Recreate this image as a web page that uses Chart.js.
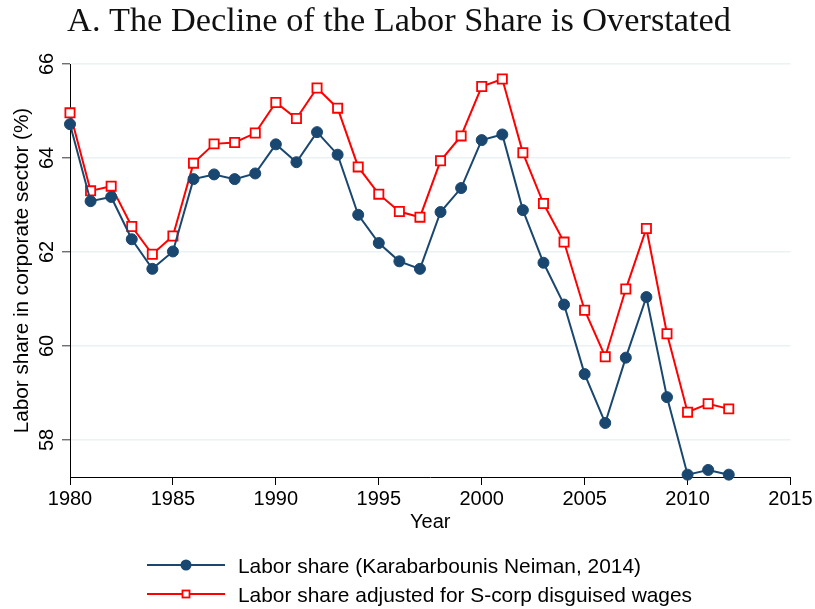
<!DOCTYPE html>
<html>
<head>
<meta charset="utf-8">
<script src="https://cdn.jsdelivr.net/npm/chart.js@4.4.1/dist/chart.umd.min.js"></script>
<style>
  html, body { margin: 0; padding: 0; background: #fff; }
</style>
</head>
<body>
<canvas id="myChart" width="815" height="609"></canvas>
<script>
// values
const years = [1980, 1981, 1982, 1983, 1984, 1985, 1986, 1987, 1988, 1989,
  1990, 1991, 1992, 1993, 1994, 1995, 1996, 1997, 1998, 1999,
  2000, 2001, 2002, 2003, 2004, 2005, 2006, 2007, 2008, 2009,
  2010, 2011, 2012];
const laborShare = [64.72, 63.08, 63.17, 62.27, 61.64, 62.01, 63.55, 63.65, 63.55, 63.67,
  64.29, 63.91, 64.55, 64.07, 62.79, 62.19, 61.80, 61.64, 62.85, 63.36,
  64.38, 64.50, 62.89, 61.77, 60.88, 59.40, 58.36, 59.75, 61.04, 58.91,
  57.26, 57.36, 57.26];
const laborShareAdj = [64.96, 63.30, 63.40, 62.54, 61.95, 62.34, 63.89, 64.30, 64.33, 64.53,
  65.18, 64.84, 65.49, 65.06, 63.81, 63.23, 62.86, 62.74, 63.94, 64.47,
  65.52, 65.68, 64.11, 63.03, 62.21, 60.76, 59.77, 61.21, 62.50, 60.26,
  58.59, 58.77, 58.66];
const xTicks = [1980, 1985, 1990, 1995, 2000, 2005, 2010, 2015];
const yTicks = [58, 60, 62, 64, 66];
const seriesNames = ["Labor share (Karabarbounis Neiman, 2014)",
  "Labor share adjusted for S-corp disguised wages"];
const chartTitle = "A. The Decline of the Labor Share is Overstated";
const yTitle = "Labor share in corporate sector (%)";
const xTitle = "Year";

const navy = "rgb(26, 71, 111)";
const red = "rgb(255, 0, 0)";
const sans = '"Liberation Sans", Arial, sans-serif';

// title, rotated y labels, axis titles and the legend are drawn by hand
const overlay = {
  id: "overlay",
  afterDraw(chart) {
    const ctx = chart.ctx;
    const area = chart.chartArea;
    const yScale = chart.scales.y;
    ctx.save();
    ctx.fillStyle = "#000";
    ctx.textAlign = "center";
    ctx.textBaseline = "alphabetic";

    ctx.font = '34.3px "Liberation Serif", "Times New Roman", serif';
    ctx.fillStyle = "#111";
    ctx.fillText(chartTitle, 399, 31);
    ctx.fillStyle = "#000";

    ctx.font = "20px " + sans;
    yTicks.forEach((v) => {
      ctx.save();
      ctx.translate(52.5, yScale.getPixelForValue(v));
      ctx.rotate(-Math.PI / 2);
      ctx.fillText(String(v), 0, 0);
      ctx.restore();
    });

    ctx.font = "20.7px " + sans;
    ctx.save();
    ctx.translate(27.5, (area.top + area.bottom) / 2);
    ctx.rotate(-Math.PI / 2);
    ctx.fillText(yTitle, 0, 0);
    ctx.restore();

    ctx.font = "20px " + sans;
    ctx.fillText(xTitle, (area.left + area.right) / 2, 528);

    // legend
    const rows = [565, 594];
    ctx.font = "20.9px " + sans;
    ctx.textAlign = "left";
    chart.data.datasets.forEach((ds, i) => {
      const y = rows[i];
      ctx.strokeStyle = ds.borderColor;
      ctx.lineWidth = 2;
      ctx.beginPath();
      ctx.moveTo(147, y);
      ctx.lineTo(225, y);
      ctx.stroke();
      if (ds.pointStyle === "rect") {
        ctx.fillStyle = "#fff";
        ctx.fillRect(182.5, y - 3.5, 7, 7);
        ctx.lineWidth = 1.8;
        ctx.strokeRect(182.5, y - 3.5, 7, 7);
      } else {
        ctx.fillStyle = ds.pointBackgroundColor;
        ctx.beginPath();
        ctx.arc(186, y, 5.5, 0, Math.PI * 2);
        ctx.fill();
      }
      ctx.fillStyle = "#000";
      ctx.fillText(ds.label, 238, y + 7.5);
    });
    ctx.restore();
  },
};

function createTheChart() {
  const ctx = document.getElementById("myChart").getContext("2d");
  new Chart(ctx, {
    type: "line",
    data: {
      datasets: [
        {
          label: seriesNames[0],
          data: years.map((yr, i) => ({ x: yr, y: laborShare[i] })),
          borderColor: navy,
          backgroundColor: navy,
          pointBackgroundColor: navy,
          pointBorderColor: navy,
          pointStyle: "circle",
          pointRadius: 5.5,
          pointBorderWidth: 1,
          borderWidth: 2,
          clip: false,
        },
        {
          label: seriesNames[1],
          data: years.map((yr, i) => ({ x: yr, y: laborShareAdj[i] })),
          borderColor: red,
          backgroundColor: "#fff",
          pointBackgroundColor: "#fff",
          pointBorderColor: red,
          pointStyle: "rect",
          pointRadius: 6.5,
          pointBorderWidth: 1.8,
          borderWidth: 2,
          clip: false,
        },
      ],
    },
    options: {
      responsive: false,
      animation: false,
      devicePixelRatio: 1,
      layout: { padding: { top: 64, right: 24.5, bottom: 0, left: 0 } },
      plugins: {
        legend: { display: false },
        title: { display: false },
        tooltip: { enabled: false },
      },
      scales: {
        x: {
          type: "linear",
          min: 1980,
          max: 2015,
          afterBuildTicks: (scale) => {
            scale.ticks = xTicks.map((v) => ({ value: v }));
          },
          afterFit: (scale) => {
            scale.height = 132;
          },
          ticks: {
            color: "#000",
            padding: 2,
            maxRotation: 0,
            font: { family: sans, size: 20 },
            callback: (v) => String(v),
          },
          grid: {
            drawOnChartArea: false,
            drawTicks: true,
            tickLength: 8,
            tickColor: "#000",
            tickWidth: 1,
          },
          border: { display: true, color: "#000", width: 1 },
        },
        y: {
          type: "linear",
          min: 57.21,
          max: 66,
          afterBuildTicks: (scale) => {
            scale.ticks = yTicks.map((v) => ({ value: v }));
          },
          afterFit: (scale) => {
            scale.width = 70;
          },
          ticks: { display: false },
          grid: {
            color: "#eaf2f3",
            lineWidth: 1.6,
            drawTicks: true,
            tickLength: 8,
            tickColor: "#333",
            tickWidth: 1,
          },
          border: { display: true, color: "#000", width: 1 },
        },
      },
    },
    plugins: [overlay],
  });
}

createTheChart();
</script>
</body>
</html>
